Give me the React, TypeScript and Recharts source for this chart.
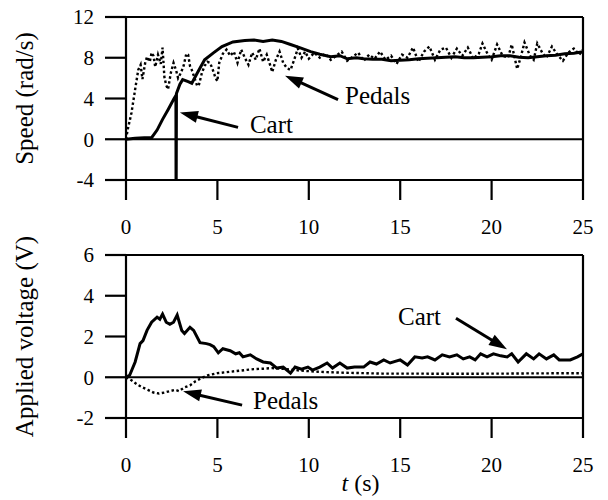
import { LineChart, Line, XAxis, YAxis, ReferenceLine, ReferenceDot } from 'recharts';

const FONT = '"Liberation Serif", "Times New Roman", serif';
const INK = '#000';

// axis ticks
const timeTicks = [0, 5, 10, 15, 20, 25];
const speedTicks = [-4, -2, 0, 2, 4, 6, 8, 10, 12];
const speedMajor = [-4, 0, 4, 8, 12];
const voltTicks = [-2, 0, 2, 4, 6];

// top panel: speed (rad/s)
const cartSpeedT = [0, 0.5, 1.0, 1.4, 1.7, 2.0, 2.3, 2.6, 2.73, 2.74, 2.76, 2.95, 3.1, 3.4, 3.6, 3.9, 4.3, 4.8, 5.25, 5.85, 6.5, 7.0, 7.5, 8.0, 8.5, 9.0, 9.5, 10.1, 10.6, 11.2, 11.7, 12.1, 12.6, 13.0, 13.5, 14.0, 14.5, 15.0, 15.5, 16.0, 16.5, 17.0, 17.5, 18.0, 18.5, 19.0, 19.5, 20.0, 20.5, 21.0, 21.5, 22.0, 22.5, 23.0, 23.5, 24.0, 24.5, 25.0];
const cartSpeedV = [0, 0.1, 0.15, 0.15, 0.9, 1.95, 2.9, 3.9, 4.3, -8, 4.5, 5.4, 5.85, 5.65, 5.5, 6.5, 7.8, 8.5, 9.1, 9.55, 9.7, 9.75, 9.6, 9.75, 9.6, 9.3, 9.0, 8.6, 8.35, 8.1, 8.2, 7.9, 8.0, 7.9, 7.85, 7.85, 7.7, 7.75, 7.8, 7.9, 7.95, 8.0, 8.05, 8.1, 8.0, 8.0, 8.05, 8.1, 8.2, 8.2, 8.05, 8.0, 8.1, 8.2, 8.25, 8.4, 8.45, 8.6];

const pedalSpeedT = [0, 0.1, 0.3, 0.5, 0.67, 0.8, 0.9, 1.05, 1.15, 1.3, 1.4, 1.5, 1.6, 1.75, 1.9, 2.0, 2.1, 2.2, 2.3, 2.45, 2.6, 2.75, 2.85, 3.0, 3.15, 3.3, 3.4, 3.5, 3.6, 3.75, 3.9, 4.0, 4.15, 4.3, 4.45, 4.6, 4.75, 4.9, 5.0, 5.1, 5.3, 5.5, 5.7, 5.9, 6.1, 6.3, 6.5, 6.7, 6.9, 7.1, 7.3, 7.5, 7.7, 7.9, 8.0, 8.2, 8.4, 8.6, 8.8, 9.0, 9.2, 9.4, 9.6, 9.8, 10.0, 10.3, 10.6, 10.9, 11.2, 11.5, 11.8, 12.1, 12.4, 12.7, 13.0, 13.3, 13.6, 13.9, 14.2, 14.5, 14.8, 15.1, 15.4, 15.7, 16.0, 16.3, 16.6, 16.9, 17.2, 17.5, 17.8, 18.1, 18.4, 18.7, 19.0, 19.3, 19.5, 19.8, 20.0, 20.3, 20.6, 20.9, 21.1, 21.4, 21.6, 21.8, 22.1, 22.3, 22.5, 22.8, 23.0, 23.3, 23.6, 23.9, 24.2, 24.5, 24.8, 25.0];
const pedalSpeedV = [0, 1.0, 2.6, 4.9, 6.8, 7.3, 5.9, 7.5, 8.1, 7.6, 8.5, 8.2, 7.1, 8.3, 7.4, 9.0, 6.1, 5.3, 4.9, 6.5, 7.5, 6.7, 6.0, 6.5, 7.2, 8.4, 8.3, 7.2, 6.8, 6.0, 5.2, 5.4, 6.5, 7.2, 7.6, 7.5, 6.8, 6.0, 5.7, 7.5, 8.4, 8.8, 8.2, 8.6, 7.5, 8.8, 8.0, 7.3, 8.5, 7.8, 8.9, 7.6, 8.3, 7.2, 6.6, 7.8, 8.6, 7.5, 7.0, 6.8, 7.8, 8.9, 8.0, 8.6, 7.9, 8.5, 8.0, 8.4, 7.8, 8.2, 8.6, 7.7, 8.1, 8.5, 7.7, 8.3, 7.9, 8.6, 7.8, 8.2, 7.4, 8.3, 8.0, 9.0, 7.6, 8.6, 9.1, 7.8, 8.8, 9.0, 8.0, 8.9, 8.2, 9.0, 7.9, 8.4, 9.4, 8.3, 7.8, 9.3, 8.2, 8.0, 9.3, 6.9, 8.1, 9.5, 8.2, 7.8, 9.4, 8.4, 8.0, 9.1, 8.3, 7.7, 8.5, 8.9, 8.3, 8.8];

// bottom panel: applied voltage (V)
const cartVoltT = [0, 0.2, 0.5, 0.77, 0.93, 1.15, 1.4, 1.7, 1.85, 2.0, 2.2, 2.4, 2.6, 2.8, 3.05, 3.2, 3.5, 3.7, 4.05, 4.4, 4.6, 4.8, 5.05, 5.3, 5.5, 5.7, 6.0, 6.2, 6.4, 6.8, 7.15, 7.5, 7.9, 8.25, 8.6, 9.0, 9.25, 9.6, 9.95, 10.2, 10.6, 11.0, 11.3, 11.7, 12.1, 12.5, 13.0, 13.35, 13.7, 14.1, 14.45, 15.0, 15.4, 15.8, 16.2, 16.5, 16.9, 17.3, 17.7, 18.1, 18.45, 18.8, 19.1, 19.4, 19.75, 20.1, 20.5, 20.85, 21.1, 21.45, 21.9, 22.3, 22.6, 23.0, 23.4, 23.7, 24.3, 24.7, 25.0];
const cartVoltV = [0, 0.1, 0.75, 1.65, 1.8, 2.3, 2.7, 2.95, 2.85, 3.1, 2.7, 2.6, 2.7, 3.05, 2.3, 2.15, 2.45, 2.3, 1.7, 1.65, 1.6, 1.5, 1.2, 1.4, 1.35, 1.3, 1.15, 1.2, 1.0, 1.1, 0.9, 0.75, 0.7, 0.45, 0.5, 0.2, 0.5, 0.4, 0.5, 0.35, 0.5, 0.7, 0.45, 0.7, 0.45, 0.5, 0.5, 0.75, 0.65, 0.85, 0.7, 0.85, 0.6, 1.0, 0.95, 1.0, 0.85, 1.1, 1.0, 1.1, 0.9, 1.0, 0.85, 1.15, 1.0, 1.15, 1.05, 1.0, 1.15, 0.75, 1.15, 0.9, 1.15, 0.9, 1.1, 0.85, 0.85, 1.0, 1.15];

const pedalVoltT = [0, 0.3, 0.6, 0.9, 1.2, 1.5, 1.8, 2.1, 2.4, 2.7, 2.9, 3.2, 3.5, 3.8, 4.1, 4.5, 5.0, 5.5, 6.0, 6.5, 7.0, 7.5, 8.0, 8.5, 9.0, 9.5, 10, 10.5, 11, 12, 13, 14, 15, 16, 17, 18, 19, 20, 21, 22, 23, 24, 25];
const pedalVoltV = [0, -0.15, -0.35, -0.5, -0.62, -0.75, -0.8, -0.75, -0.68, -0.62, -0.68, -0.5, -0.4, -0.2, -0.05, 0.1, 0.2, 0.25, 0.3, 0.35, 0.4, 0.42, 0.45, 0.42, 0.38, 0.33, 0.3, 0.27, 0.25, 0.22, 0.2, 0.18, 0.18, 0.18, 0.17, 0.17, 0.17, 0.18, 0.18, 0.19, 0.19, 0.2, 0.2];

// annotations (data coordinates)
const speedArrows = [
  { from: [6.13, 1.17], to: [2.95, 2.63] },
  { from: [11.6, 3.9], to: [8.7, 6.24] },
];
const speedNotes = [
  { t: 6.78, v: 1.5, text: 'Cart' },
  { t: 11.98, v: 4.3, text: 'Pedals' },
];
const voltArrows = [
  { from: [18.05, 2.9], to: [20.84, 1.37] },
  { from: [6.35, -1.37], to: [3.12, -0.69] },
];
const voltNotes = [
  { t: 14.88, v: 3.0, text: 'Cart' },
  { t: 6.95, v: -1.13, text: 'Pedals' },
];

const zip = (ts: number[], vs: number[]) => ts.map((t, i) => ({ t, v: vs[i] }));

const cartSpeed = zip(cartSpeedT, cartSpeedV);
const pedalSpeed = zip(pedalSpeedT, pedalSpeedV);
const cartVolt = zip(cartVoltT, cartVoltV);
const pedalVolt = zip(pedalVoltT, pedalVoltV);

const Y_TICK = 21;
const Y_MARGIN = 11;

const makeYTick = (major: number[]) => (props: any) => {
  const { x, y, payload } = props;
  const isMajor = major.includes(payload.value);
  const axisX = x + Y_MARGIN + Y_TICK;
  return (
    <g>
      <line x1={axisX - (isMajor ? Y_TICK : 11)} x2={axisX} y1={y} y2={y} stroke={INK} strokeWidth={2.2} />
      {isMajor && (
        <text x={x} y={y} dy="0.35em" textAnchor="end" fontSize={21} fontFamily={FONT} fill={INK}>
          {payload.value}
        </text>
      )}
    </g>
  );
};

const axisTitle = (text: string) => (props: any) => {
  const vb = props.viewBox || {};
  const cx = (vb.x ?? 0) + 25;
  const cy = (vb.y ?? 0) + (vb.height ?? 0) / 2;
  return (
    <text x={cx} y={cy} dy="0.32em" transform={`rotate(-90 ${cx} ${cy})`} textAnchor="middle"
      fontSize={25} fontFamily={FONT} fill={INK}>
      {text}
    </text>
  );
};

const timeTitle = (props: any) => {
  const vb = props.viewBox || {};
  const cx = (vb.x ?? 0) + (vb.width ?? 0) / 2 + 6;
  const y = (vb.y ?? 0) + 73;
  return (
    <text x={cx} y={y} textAnchor="middle" fontSize={24} fontFamily={FONT} fill={INK}>
      <tspan fontStyle="italic">t</tspan> (s)
    </text>
  );
};

const Arrow = (props: any) => {
  const { x1, y1, x2, y2 } = props;
  const dx = x2 - x1;
  const dy = y2 - y1;
  const len = Math.hypot(dx, dy) || 1;
  const ux = dx / len;
  const uy = dy / len;
  const headL = 18;
  const headW = 6;
  const bx = x2 - ux * headL;
  const by = y2 - uy * headL;
  const px = -uy * headW;
  const py = ux * headW;
  return (
    <g>
      <line x1={x1} y1={y1} x2={bx + ux * 2} y2={by + uy * 2} stroke={INK} strokeWidth={3} />
      <polygon points={`${x2},${y2} ${bx + px},${by + py} ${bx - px},${by - py}`} fill={INK} />
    </g>
  );
};

const NoteText = (text: string) => (props: any) => (
  <text x={props.cx} y={props.cy} dy="0.35em" fontSize={25} fontFamily={FONT} fill={INK}>
    {text}
  </text>
);

const axisLine = { stroke: INK, strokeWidth: 2.2 };

const xAxisProps = {
  dataKey: 't',
  type: 'number' as const,
  domain: [0, 25],
  ticks: timeTicks,
  allowDataOverflow: true,
  axisLine,
  tickLine: axisLine,
  tickSize: 20,
  tickMargin: 19,
  tick: { fontSize: 21, fontFamily: FONT, fill: INK },
};

export default function App() {
  return (
    <div style={{ position: 'absolute', left: 0, top: 0, width: 608, height: 500, background: '#fff' }}>
      <div style={{ position: 'absolute', left: 0, top: 0 }}>
        <LineChart width={608} height={240} margin={{ top: 17, right: 25, left: 0, bottom: 0 }}>
          <XAxis {...xAxisProps} height={60} />
          <YAxis
            type="number"
            domain={[-4, 12]}
            ticks={speedTicks}
            allowDataOverflow
            width={126}
            axisLine={axisLine}
            tickLine={false}
            tickSize={Y_TICK}
            tickMargin={Y_MARGIN}
            tick={makeYTick(speedMajor)}
            label={axisTitle('Speed (rad/s)')}
          />
          <ReferenceLine y={12} stroke={INK} strokeWidth={2.2} />
          <ReferenceLine x={25} stroke={INK} strokeWidth={2.2} />
          <ReferenceLine y={0} stroke={INK} strokeWidth={2.2} />
          <Line data={pedalSpeed} dataKey="v" type="linear" stroke={INK} strokeWidth={2.4}
            strokeDasharray="2.5 2.5" dot={false} isAnimationActive={false} />
          <Line data={cartSpeed} dataKey="v" type="linear" stroke={INK} strokeWidth={3}
            dot={false} isAnimationActive={false} />
          {speedArrows.map((a, i) => (
            <ReferenceLine key={`sa${i}`} segment={[{ x: a.from[0], y: a.from[1] }, { x: a.to[0], y: a.to[1] }]}
              shape={Arrow} ifOverflow="visible" />
          ))}
          {speedNotes.map((n, i) => (
            <ReferenceDot key={`sn${i}`} x={n.t} y={n.v} r={1} shape={NoteText(n.text)} ifOverflow="visible" />
          ))}
        </LineChart>
      </div>
      <div style={{ position: 'absolute', left: 0, top: 220 }}>
        <LineChart width={608} height={280} margin={{ top: 35, right: 25, left: 0, bottom: 0 }}>
          <XAxis {...xAxisProps} height={82} label={timeTitle} />
          <YAxis
            type="number"
            domain={[-2, 6]}
            ticks={voltTicks}
            allowDataOverflow
            width={126}
            axisLine={axisLine}
            tickLine={false}
            tickSize={Y_TICK}
            tickMargin={Y_MARGIN}
            tick={makeYTick(voltTicks)}
            label={axisTitle('Applied voltage (V)')}
          />
          <ReferenceLine y={6} stroke={INK} strokeWidth={2.2} />
          <ReferenceLine x={25} stroke={INK} strokeWidth={2.2} />
          <ReferenceLine y={0} stroke={INK} strokeWidth={2.2} />
          <Line data={pedalVolt} dataKey="v" type="linear" stroke={INK} strokeWidth={2.4}
            strokeDasharray="2.5 2.5" dot={false} isAnimationActive={false} />
          <Line data={cartVolt} dataKey="v" type="linear" stroke={INK} strokeWidth={3}
            dot={false} isAnimationActive={false} />
          {voltArrows.map((a, i) => (
            <ReferenceLine key={`va${i}`} segment={[{ x: a.from[0], y: a.from[1] }, { x: a.to[0], y: a.to[1] }]}
              shape={Arrow} ifOverflow="visible" />
          ))}
          {voltNotes.map((n, i) => (
            <ReferenceDot key={`vn${i}`} x={n.t} y={n.v} r={1} shape={NoteText(n.text)} ifOverflow="visible" />
          ))}
        </LineChart>
      </div>
    </div>
  );
}
